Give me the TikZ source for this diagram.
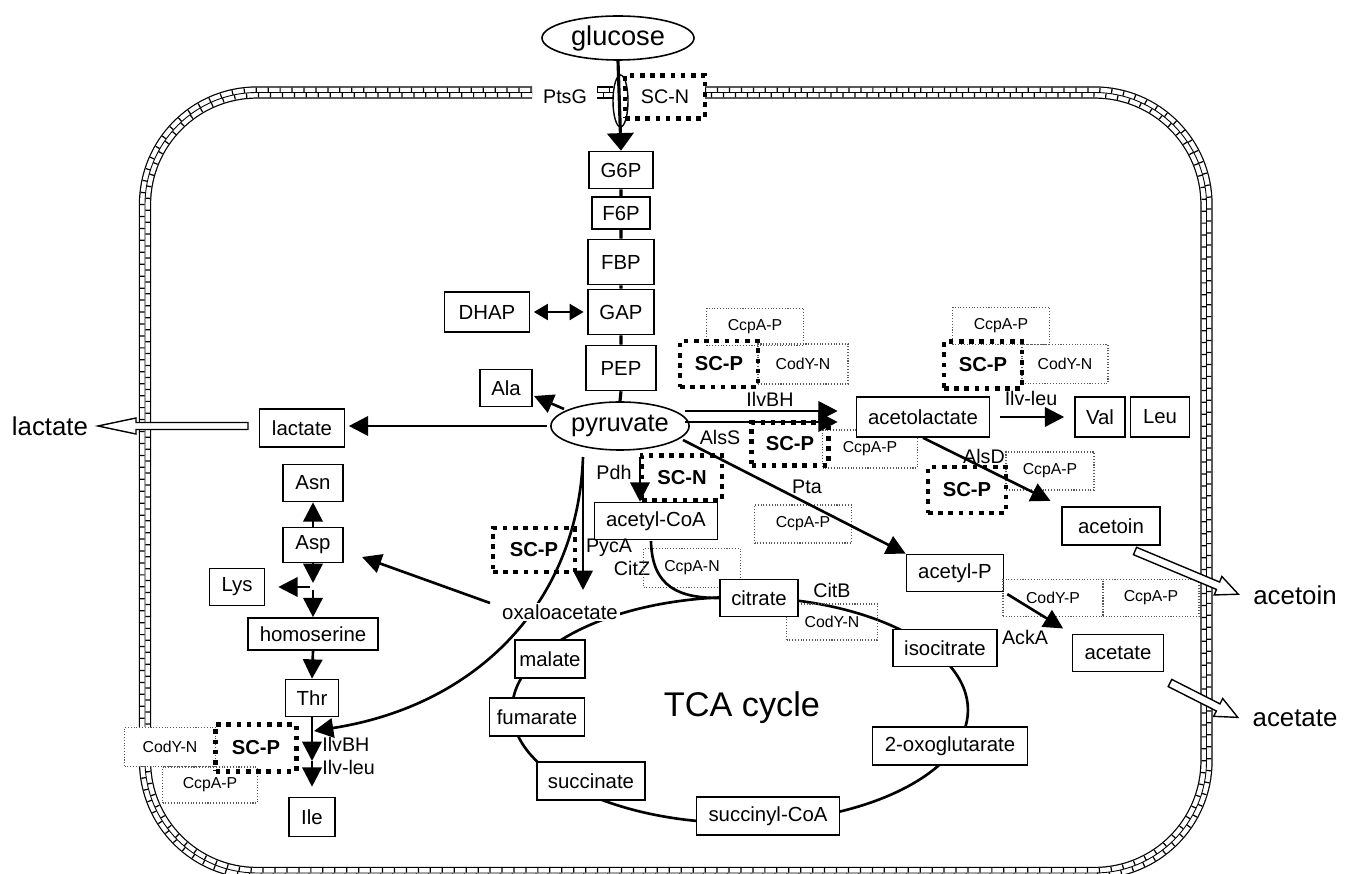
\documentclass[tikz,border=0pt]{standalone}
\usepackage{fontspec}
\setmainfont{Liberation Sans}
\usetikzlibrary{arrows.meta,shapes.geometric,calc}
\newcommand\memdraw[2]{\draw[#1] (705,{92.5-(#2)}) -- ({1206.5+(#2)},{92.5-(#2)}) -- ({1206.5+(#2)},{873+(#2)}) -- ({145-(#2)},{873+(#2)}) -- ({145-(#2)},{92.5-(#2)}) -- (532,{92.5-(#2)});}
\newcommand\openarrow[7]{\draw[openarr, shift={(#1,#2)}, rotate=#3] (0,-#6) -- ({#4-#5},-#6) -- ({#4-#5},-#7) -- (#4,0) -- ({#4-#5},#7) -- ({#4-#5},#6) -- (0,#6) -- cycle;}
\tikzset{
  wh/.style 2 args={minimum width=#1*0.02cm, minimum height=#2*0.02cm},
  box/.style={draw, line width=0.9pt, fill=white, inner sep=0pt, font=\fontsize{11.6}{13}\selectfont},
  reg/.style={draw=black!65, line width=0.6pt, densely dotted, inner sep=0pt, font=\fontsize{9}{10}\selectfont},
  sc/.style={draw, line width=2.6pt, dash pattern=on 2.6pt off 3.2pt, inner sep=0pt, font=\bfseries\fontsize{11.5}{13}\selectfont},
  lbl/.style={inner sep=0pt, font=\fontsize{11.2}{13}\selectfont},
  big/.style={inner sep=0pt, font=\fontsize{14.7}{17}\selectfont},
  conn/.style={line width=1.5pt},
  arr/.style={conn, -{Triangle[length=11pt,width=11pt]}},
  openarr/.style={draw, line width=0.8pt, fill=white},
  brick/.style={line width=2.6pt, dash pattern=on 0.7pt off 6.1pt},
}
\begin{document}
\begin{tikzpicture}[x=0.02cm, y=-0.02cm]
\useasboundingbox (0,0) rectangle (1350,874);
% membrane
\memdraw{line width=7pt, rounded corners=2.24cm}{0}
\memdraw{white, line width=5.6pt, rounded corners=2.24cm}{0}
\memdraw{line width=0.5pt, rounded corners=2.24cm}{0}
\memdraw{brick, rounded corners=2.29cm}{2.55}
\memdraw{brick, dash phase=3.4pt, rounded corners=2.19cm}{-2.55}
\draw[line width=7pt] (597,92.5) -- (613,92.5);
\draw[white, line width=5.6pt] (597,92.5) -- (613,92.5);
\draw[line width=0.5pt] (597,92.5) -- (613,92.5);
\draw[brick] (597,90) -- (613,90);
\draw[brick, dash phase=3.4pt] (597,95) -- (613,95);

% TCA cycle ring and pyruvate -> Thr curve
\draw[conn] (740,710) ellipse [x radius=4.56cm, y radius=2.26cm];
\coordinate (pycS) at (583,457);
\coordinate (thrJ) at (314,731);
\draw[arr] (pycS) .. controls (578,600) and (480,705) .. (thrJ);

% glycolysis
\node[draw, ellipse, line width=0.9pt, fill=white, inner sep=0pt, wh={152}{44}, font=\fontsize{15.5}{17}\selectfont] (glc) at (618,38) {glucose};
\node[draw, ellipse, line width=0.8pt, inner sep=0pt, wh={15}{52}] (ptsg) at (620.5,101) {};
\node[lbl] (ptsgl) at (565,97) {PtsG};
\node[sc, font=\fontsize{11.2}{13}\selectfont, wh={80}{43}] (scn1) at (665,97) {SC-N};
\node[box, wh={64}{37}] (g6p) at (621,170) {G6P};
\node[box, wh={58}{32}] (f6p) at (621,213) {F6P};
\node[box, wh={66}{45}] (fbp) at (621,262) {FBP};
\node[box, wh={66}{45}] (gap) at (621,312) {GAP};
\node[box, wh={70}{45}] (pep) at (621,368) {PEP};
\node[box, wh={85}{40}] (dhap) at (487,312) {DHAP};
\node[box, wh={52}{37}] (ala) at (506,388) {Ala};
\node[draw, ellipse, line width=0.9pt, fill=white, inner sep=0pt, wh={115}{48}, font=\fontsize{14.5}{16}\selectfont] (pyr) at (620,426) {pyruvate};

% left branch
\node[box, wh={85}{38}] (lac) at (302,428) {lactate};
\node[big] (lacout) at (50,426) {lactate};
\node[box, wh={60}{37}] (asn) at (313,483) {Asn};
\node[box, wh={60}{35}] (asp) at (313,545) {Asp};
\node[box, wh={55}{37}] (lys) at (237,587) {Lys};
\node[box, wh={130}{32}] (hom) at (313,634) {homoserine};
\node[box, wh={53}{37}] (thr) at (312,698) {Thr};
\node[box, wh={46}{39}] (ile) at (312,817) {Ile};
\node[reg, fill=white, wh={91}{39}] (cody5) at (170,747) {CodY-N};
\node[reg, fill=white, wh={95}{36}] (ccpa7) at (210,785) {CcpA-P};
\node[sc, wh={81}{47}] (scp6) at (256,748) {SC-P};
\node[lbl, anchor=west] (ilvbh2) at (322,744) {IlvBH};
\node[lbl, anchor=west] (ilvleu2) at (322,767) {Ilv-leu};

% central
\node[fill=white, inner sep=1pt, font=\fontsize{11.6}{13}\selectfont] (oxa) at (560,612) {oxaloacetate};
\node[box, wh={123}{37}] (accoa) at (656,521) {acetyl-CoA};
\node[sc, wh={80}{45}] (scn2) at (682,478) {SC-N};
\node[sc, wh={82}{44}] (scp5) at (534,550) {SC-P};
\node[lbl] (pdh) at (614,472) {Pdh};
\node[lbl] (pyca) at (609,548) {PycA};
\node[lbl] (citz) at (632,568) {CitZ};
\node[lbl] (citb) at (832,590) {CitB};
\node[reg, wh={97}{39}] (ccpan) at (692,568) {CcpA-N};
\node[reg, wh={91}{36}] (cody4) at (832,622) {CodY-N};
\node[box, wh={78}{37}] (cit) at (759,598) {citrate};
\node[box, wh={104}{37}] (icit) at (945,648) {isocitrate};
\node[box, wh={155}{38}] (oxg) at (950,746) {2-oxoglutarate};
\node[box, wh={143}{38}] (succoa) at (768,816) {succinyl-CoA};
\node[box, wh={108}{38}] (succ) at (591,781) {succinate};
\node[box, wh={95}{38}] (fum) at (537,717) {fumarate};
\node[box, wh={70}{38}] (mal) at (550,659) {malate};
\node[inner sep=0pt, font=\fontsize{19.5}{22}\selectfont] (tca) at (742,708) {TCA cycle};

% upper right
\node[reg, wh={97}{37}] (ccpa1) at (755,327) {CcpA-P};
\node[reg, wh={90}{40}] (cody1) at (803,364) {CodY-N};
\node[sc, wh={78}{46}] (scp1) at (719,364) {SC-P};
\node[lbl] (ilvbh) at (770,399) {IlvBH};
\node[lbl] (alss) at (720,437) {AlsS};
\node[reg, wh={95}{38}] (ccpa2) at (870,449) {CcpA-P};
\node[sc, wh={77}{43}] (scp2) at (790,444) {SC-P};
\node[box, wh={133}{40}] (acl) at (923,417) {acetolactate};
\node[reg, wh={97}{37}] (ccpa3) at (1001,326) {CcpA-P};
\node[reg, wh={86}{39}] (cody3) at (1065,364) {CodY-N};
\node[sc, wh={78}{47}] (scp3) at (983,365) {SC-P};
\node[lbl] (ilvleu) at (1031,398) {Ilv-leu};
\node[box, wh={50}{40}] (val) at (1100,417) {Val};
\node[box, wh={59}{40}] (leu) at (1160,417) {Leu};
\node[lbl] (alsd) at (984,456) {AlsD};
\node[reg, wh={88}{38}] (ccpa4) at (1050,471) {CcpA-P};
\node[sc, wh={78}{46}] (scp4) at (967,490) {SC-P};
\node[box, wh={98}{38}] (acn) at (1111,526) {acetoin};
\node[lbl] (pta) at (807,487) {Pta};
\node[reg, wh={97}{38}] (ccpa5) at (803,524) {CcpA-P};
\node[box, wh={97}{37}] (acp) at (955,573) {acetyl-P};
\node[reg, wh={100}{37}] (codyp) at (1053,598) {CodY-P};
\node[reg, wh={96}{37}] (ccpa6) at (1151,598) {CcpA-P};
\node[lbl] (acka) at (1025,637) {AckA};
\node[box, wh={91}{37}] (act) at (1118,653) {acetate};
\node[big] (acnout) at (1295,595) {acetoin};
\node[big] (actout) at (1295,718) {acetate};

% open export arrows
\openarrow{248}{426}{180}{150}{38}{3.5}{8}
\openarrow{1135}{551}{-22.7}{112}{22}{4}{10}
\openarrow{1170}{683}{-26.9}{76}{22}{4}{10}

% glycolysis connectors
\draw[line width=1.8pt, -{Triangle[length=10pt,width=15pt]}] (glc.south) -- (g6p.north);
\draw[line width=1.8pt] (g6p.south) -- (f6p.north) (f6p.south) -- (fbp.north) (fbp.south) -- (gap.north) (gap.south) -- (pep.north) (pep.south) -- (pyr.north);
\draw[conn, {Triangle[length=8pt,width=9pt]}-{Triangle[length=8pt,width=9pt]}, shorten <=2pt, shorten >=2pt] (dhap.east) -- (gap.west);
\coordinate (alaS) at (564,409);
\coordinate (alaE) at (534,396);
\draw[arr] (alaS) -- (alaE);
\draw[arr, shorten <=2pt, shorten >=2pt] (pyr.west) -- (lac.east |- pyr.west);

% left branch connectors
\draw[arr] (asp.north) -- (asn.south);
\coordinate (aspE) at (313,583);
\draw[arr] (asp.south) -- (aspE);
\coordinate (lysB) at (310,587);
\draw[arr, shorten >=0.26cm] (lysB) -- (lys.east);
\coordinate (homB) at (313,590);
\draw[arr] (homB) -- (hom.north);
\draw[arr] (hom.south) -- (thr.north);
\coordinate (ileM) at (312,761);
\draw[arr] (thr.south) -- (ileM);
\draw[arr, shorten >=0.2cm] (ileM) -- (ile.north);
\coordinate (oxaL) at (490,603);
\coordinate (aspR) at (362,557);
\draw[arr] (oxaL) -- (aspR);

% pyruvate outputs
\coordinate (pycE) at (583,590);
\draw[arr] (pycS) -- (pycE);
\coordinate (pdhS) at (640,457);
\draw[arr] (pdhS) -- (pdhS |- accoa.north);
\coordinate (citzS) at (651,541);
\draw[conn] (citzS) .. controls (652,588) and (680,598) .. (cit.west);
\coordinate (ilvS) at (685,411);
\coordinate (alsS) at (685,422);
\draw[arr, shorten >=0.36cm] (ilvS) -- (ilvS -| acl.west);
\draw[arr, shorten >=0.36cm] (alsS) -- (alsS -| acl.west);
\coordinate (ptaS) at (683,440);
\draw[arr] (ptaS) -- (acp.north west);
\draw[arr, shorten <=0.2cm, shorten >=0.2cm] (acl.east) -- (val.west);
\draw[arr, shorten >=0.24cm] (acl.south) -- (acn.north west);
\draw[arr, shorten <=2pt, shorten >=0.2cm] (acp.south east) -- (act.north west);
\end{tikzpicture}
\end{document}
